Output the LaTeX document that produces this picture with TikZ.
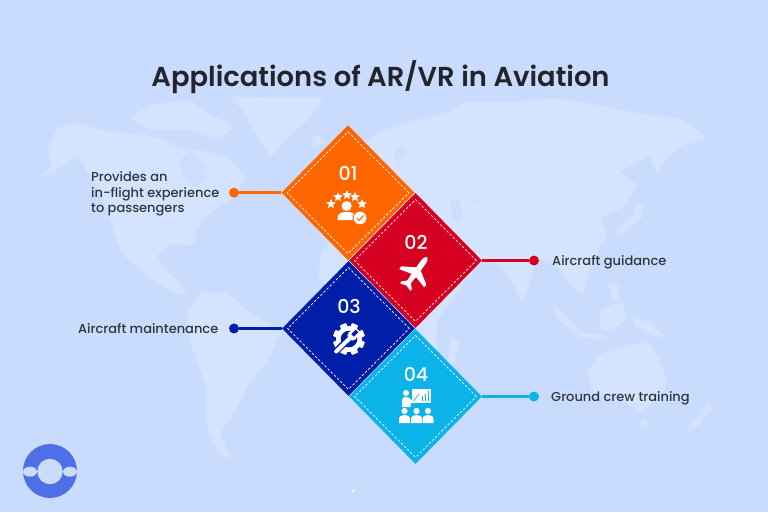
\documentclass[tikz,border=0pt]{standalone}
\usepackage{fontspec}
\setmainfont{Poppins}
\newfontfamily\popsemi{Poppins SemiBold}
\newfontfamily\popmed{Poppins Medium}
\usetikzlibrary{shapes.geometric}
\definecolor{bgblue}{HTML}{CADCFD}
\definecolor{maplight}{HTML}{D5E4FE}
\definecolor{cOrange}{HTML}{FF6600}
\definecolor{cRed}{HTML}{D60021}
\definecolor{cNavy}{HTML}{001EA8}
\definecolor{cCyan}{HTML}{0BB3E8}
\definecolor{cLogo}{HTML}{4F6FE6}
\definecolor{cText}{HTML}{30363F}
\tikzset{
  land/.style={fill=maplight,draw=maplight!50!bgblue,line width=1.6pt,rounded corners=3pt},
  sea/.style={fill=bgblue!70!maplight,draw=bgblue!30!maplight,line width=1.2pt,rounded corners=2pt},
  tile/.style={diamond,aspect=1,draw=none,inner sep=0pt,minimum width=133pt,minimum height=135pt},
  stitch/.style={diamond,aspect=1,draw=white,fill=none,line width=.75pt,dash pattern=on 2.5pt off 1.9pt,inner sep=0pt,minimum width=122pt,minimum height=122pt},
  num/.style={text=white,font=\popmed\fontsize{19}{22}\selectfont,inner sep=0pt},
  lab/.style={text=cText,font=\popmed\fontsize{13}{15.6}\selectfont,inner sep=0pt},
  knob/.style={circle,inner sep=0pt,minimum size=10pt},
  wire/.style={line width=3pt},
  tinystar/.style={star,star points=5,star point ratio=2.2,fill=white,draw=none,inner sep=0pt,minimum size=10pt}
}
\newcommand{\listener}[1]{%
  \fill[white] (#1,411) circle (3.1);
  \fill[white] (#1-5.5,423) -- (#1-5.5,419.5) .. controls (#1-5.5,416) and (#1-3,415) .. (#1,415) .. controls (#1+3,415) and (#1+5.5,416) .. (#1+5.5,419.5) -- (#1+5.5,423) -- cycle;
}
\begin{document}
\begin{tikzpicture}[x=1pt,y=-1pt]
\useasboundingbox (0,0) rectangle (768,512);
\fill[bgblue] (0,0) rectangle (768,512);

% world map
\path[land] (40,178) -- (52,166) -- (47,152) -- (57,128) -- (77,123) -- (100,130) -- (120,132) -- (160,138) -- (180,148) -- (207,152) -- (227,158) -- (247,175) -- (236,195) -- (207,215) -- (197,228) -- (193,245) -- (170,245) -- (157,255) -- (163,268) -- (180,282) -- (187,295) -- (173,292) -- (147,275) -- (123,255) -- (110,222) -- (100,192) -- (77,155) -- (60,168) -- cycle;
\path[sea] (180,160) -- (190,150) -- (205,165) -- (205,180) -- (195,188) -- (182,175) -- cycle;
\path[land] (130,118) -- (150,105) -- (190,100) -- (210,115) -- (235,125) -- (220,140) -- (190,130) -- (150,130) -- cycle;
\path[land] (233,97) -- (323,98) -- (310,118) -- (287,138) -- (270,158) -- (253,128) -- cycle;
\path[land] (310,138) -- (320,135) -- (327,142) -- (316,147) -- cycle;
\path[land] (187,315) -- (200,292) -- (227,292) -- (253,315) -- (282,330) -- (267,362) -- (250,382) -- (233,415) -- (220,432) -- (230,458) -- (220,455) -- (207,428) -- (207,388) -- (190,342) -- cycle;
\path[land] (350,150) -- (380,132) -- (410,122) -- (450,112) -- (463,102) -- (513,102) -- (553,98) -- (597,105) -- (647,115) -- (680,118) -- (707,138) -- (683,145) -- (667,158) -- (657,175) -- (650,155) -- (620,172) -- (637,185) -- (623,208) -- (600,218) -- (607,238) -- (593,258) -- (583,295) -- (567,282) -- (557,265) -- (537,258) -- (523,302) -- (503,268) -- (480,258) -- (470,280) -- (445,262) -- (430,225) -- (360,225) -- cycle;
\path[land] (322,250) -- (318,275) -- (330,290) -- (360,300) -- (375,330) -- (385,380) -- (400,395) -- (425,372) -- (437,345) -- (437,320) -- (460,290) -- (470,270) -- (445,262) -- (430,225) -- (345,225) -- cycle;
\path[land] (452,335) -- (460,345) -- (452,367) -- (447,358) -- cycle;
\path[sea] (450,200) -- (458,198) -- (462,212) -- (460,224) -- (452,218) -- cycle;
\path[sea] (476,198) -- (480,202) -- (478,207) -- (475,203) -- cycle;
\path[sea] (398,145) -- (408,150) -- (400,165) -- (393,158) -- cycle;
\path[land,rounded corners=1pt] (637,202) -- (642,204) -- (642,218) -- (620,235) -- (618,229) -- (633,216) -- cycle;
\path[land,rounded corners=1pt] (553,305) -- (562,312) -- (583,335) -- (576,335) -- (555,315) -- cycle;
\path[land] (600,310) -- (622,302) -- (626,318) -- (612,332) -- (600,328) -- cycle;
\path[land,rounded corners=1pt] (577,332) -- (607,336) -- (607,340) -- (577,337) -- cycle;
\path[land,rounded corners=1pt] (633,318) -- (650,322) -- (667,338) -- (652,335) -- (635,326) -- cycle;
\path[land,rounded corners=1pt] (607,282) -- (618,285) -- (620,302) -- (612,298) -- cycle;
\path[land] (587,372) -- (600,355) -- (630,345) -- (650,342) -- (667,378) -- (663,395) -- (640,412) -- (613,395) -- (593,395) -- cycle;
\path[land,rounded corners=1pt] (640,420) -- (648,420) -- (646,427) -- (641,427) -- cycle;
\path[land,rounded corners=1pt] (707,402) -- (713,410) -- (704,418) -- (703,410) -- cycle;
\path[land,rounded corners=1pt] (703,414) -- (700,424) -- (688,433) -- (687,427) -- cycle;
\fill[white] (353,491) circle (1.3);

% title
\node[text=cText!70!black,font=\popsemi\fontsize{27.4}{32}\selectfont,inner sep=0pt,anchor=base] (title) at (380.5,86) {Applications of AR/VR in Aviation};

% knobs
\node[knob,fill=cOrange] (k1) at (234,192.7) {};
\node[knob,fill=cRed]    (k2) at (534,260.5) {};
\node[knob,fill=cNavy]   (k3) at (234,328.5) {};
\node[knob,fill=cCyan]   (k4) at (534,396.5) {};

% tiles
\node[tile,fill=cOrange] (d1) at (348,192.7) {};
\node[tile,fill=cRed]    (d2) at (415.5,260.5) {};
\node[tile,fill=cNavy]   (d3) at (348.5,328.5) {};
\node[tile,fill=cCyan]   (d4) at (415.5,396.5) {};
\node[stitch] (s1) at (d1.center) {};
\node[stitch] (s2) at (d2.center) {};
\node[stitch] (s3) at (d3.center) {};
\node[stitch] (s4) at (d4.center) {};

\draw[wire,cOrange] (k1) -- (d1.west);
\draw[wire,cRed]    (k2) -- (d2.east);
\draw[wire,cNavy]   (k3) -- (d3.west);
\draw[wire,cCyan]   (k4) -- (d4.east);

% numbers
\node[num] (n1) at (348,173) {01};
\node[num] (n2) at (416,242) {02};
\node[num] (n3) at (349,306) {03};
\node[num] (n4) at (416,374) {04};

% labels
\node[lab,align=left,anchor=base west] (l1a) at (91,181.5) {Provides an};
\node[lab,align=left,anchor=base west] (l1b) at (91,197) {in-flight experience};
\node[lab,align=left,anchor=base west] (l1c) at (91,212.7) {to passengers};
\node[lab,anchor=base west] (l2) at (552,265) {Aircraft guidance};
\node[lab,anchor=base east] (l3) at (218.5,333) {Aircraft maintenance};
\node[lab,anchor=base west] (l4) at (551,401.3) {Ground crew training};

% icon 01: rated person
\node[tinystar] (st1) at (331,204) {};
\node[tinystar] (st2) at (338,197) {};
\node[tinystar] (st3) at (347,195) {};
\node[tinystar] (st4) at (355,197) {};
\node[tinystar] (st5) at (362,204) {};
\fill[white] (346.7,206) circle (5);
\fill[white] (337.5,220) -- (337.5,217.5) .. controls (338,213) and (342,212) .. (346.7,212) .. controls (351,212) and (355.5,213) .. (356,217.5) -- (356,220) -- cycle;
\fill[white,draw=cOrange,line width=1pt] (360,218) circle (7);
\draw[cOrange,line width=1.1pt] (356.8,218) -- (359.2,220.3) -- (363.5,215.5);

% icon 02: plane
\begin{scope}[shift={(415.5,273)},rotate=-36]
\fill[white,rounded corners=.6pt] (0,-19.5) .. controls (1.8,-18.5) and (2.8,-16.5) .. (2.8,-14) -- (2.8,-5) -- (15.5,3) -- (15.5,6.5) -- (2.8,3) -- (2.2,11) -- (6.5,15) -- (6.5,17.5) -- (0,15.5) -- (-6.5,17.5) -- (-6.5,15) -- (-2.2,11) -- (-2.8,3) -- (-15.5,6.5) -- (-15.5,3) -- (-2.8,-5) -- (-2.8,-14) .. controls (-2.8,-16.5) and (-1.8,-18.5) .. (0,-19.5) -- cycle;
\end{scope}

% icon 03: gear and wrench
\begin{scope}[shift={(349,339)}]
\foreach \a in {0,45,...,315}{
  \fill[white,rotate=\a+22.5,rounded corners=.8pt] (-3.4,-16) rectangle (3.4,-9);
}
\fill[white] (0,0) circle (13);
\fill[cNavy] (0,0) circle (8.3);
\draw[cNavy,line width=6.6pt] (-16,15.2) -- (2,-2);
\draw[white,line width=4pt,line cap=round] (-12.8,12.5) -- (2,-2);
\fill[white] (3.4,-3.4) circle (5);
\begin{scope}[rotate around={-45:(3.4,-3.4)}]
\fill[cNavy] (1.6,-10) rectangle (5.2,-3.6);
\end{scope}
\end{scope}

% icon 04: presenter and audience
\fill[white] (412,389) rectangle (431,402.5);
\fill[cCyan] (422,396) rectangle (423.2,401);
\fill[cCyan] (425,393.5) rectangle (426.2,401);
\fill[cCyan] (428,391) rectangle (429.2,401);
\fill[white] (406,393) circle (3);
\fill[white] (402,407) -- (402,400) .. controls (402,397.5) and (404,397) .. (406,397) .. controls (408,397) and (410,397.5) .. (413,402) -- (410.5,404) -- (410.5,407) -- cycle;
\draw[cCyan,line width=.7pt] (413.5,401) -- (419,394);
\listener{404.5}
\listener{416.5}
\listener{428}

% logo
\fill[cLogo] (50,471) circle (27);
\fill[bgblue] (50,471.5) circle (12.7);
\fill[bgblue] (30,471.7) ellipse (7 and 5);
\fill[bgblue] (70,471.7) ellipse (7 and 5);
\fill[bgblue] (20,471.1) rectangle (80,472.3);
\end{tikzpicture}
\end{document}
